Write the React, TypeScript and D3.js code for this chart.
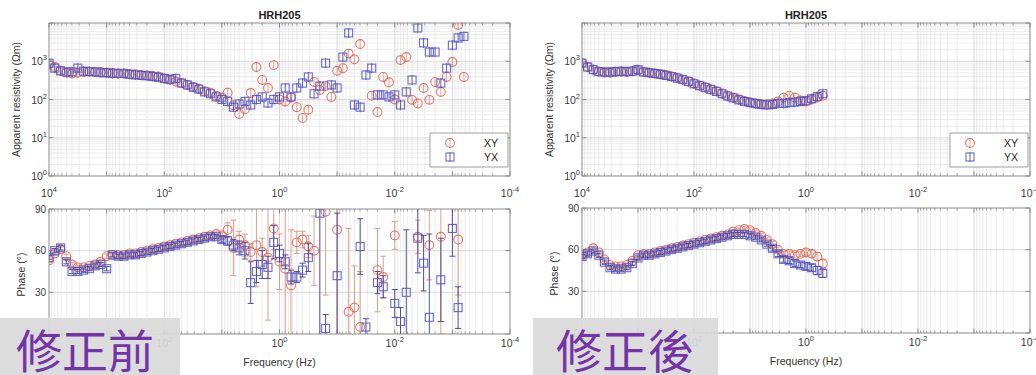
import React from 'react';
import * as d3 from 'd3';

// ---------- data ----------
const FREQ = [10000, 7943, 6310, 5012, 3981, 3162, 2512, 1995, 1585, 1259,
  1000, 794.3, 631.0, 501.2, 398.1, 316.2, 251.2, 199.5, 158.5, 125.9,
  100, 79.43, 63.10, 50.12, 39.81, 31.62, 25.12, 19.95, 15.85, 12.59,
  10, 7.943, 6.310, 5.012, 3.981, 3.162, 2.512, 1.995, 1.585, 1.259,
  1, 0.7943, 0.6310, 0.5012, 0.3981, 0.3162, 0.2512, 0.1995, 0.1585, 0.1259,
  0.1, 0.07943, 0.06310, 0.05012, 0.03981, 0.03162, 0.02512, 0.01995, 0.01585, 0.01259,
  0.01, 0.007943, 0.006310, 0.005012, 0.003981, 0.003162, 0.002512, 0.001995, 0.001585, 0.001259,
  0.001, 0.0007943, 0.0006310];

type V = number | null;

// before correction (修正前)
const XY_RHO_BEFORE: V[] = [832, 708, 562, 501, 479, 501, 525, 537, 525, 525,
  501, 501, 479, 479, 457, 457, 437, 427, 417, 398,
  355, 331, 295, 269, 240, 214, 191, 166, 151, 126,
  112, 151, 71, 42, 56, 148, 708, 324, 200, 794,
  100, 89, 112, 63, 33, 54, 288, 178, 224, 117,
  562, 661, 1585, 1122, 2818, null, 126, 47, 389, 282,
  100, 1072, 1288, 98, 79, 200, 98, 288, 158, 389,
  955, 8913, 389];
const YX_RHO_BEFORE: V[] = [891, 661, 562, 525, 525, 661, 550, 537, 525, 501,
  501, 479, 479, 479, 457, 437, 427, 417, 398, 380,
  355, 331, 355, 269, 240, 209, 186, 158, 141, 117,
  100, 89, 63, 76, 89, 72, 100, 117, 81, 100,
  117, 200, 117, 200, 269, 389, 141, 224, 891, 240,
  200, 1288, 5495, 72, 63, 437, 661, 132, 132, 117,
  132, 72, 158, 324, 7413, 3020, 1738, 1738, 269, 661,
  2630, 4074, 4467];
const XY_PHASE_BEFORE: V[] = [53, 58, 61, 56, 50, 48, 48, 49, 50, 52,
  56, 57, 57, 57, 58, 58, 59, 60, 61, 62,
  63, 64, 65, 66, 67, 68, 69, 70, 71, 72,
  71, 75, 62, 68, 64, 59, 64, 59, 55, 76,
  52, 47, 35, 66, 68, 63, 60, null, 88, null,
  75, null, 16, 19, 5, null, null, 46, 41, null,
  71, null, null, null, 70, null, 64, null, 70, null,
  null, 68, null];
const XY_PHASE_ERR_BEFORE: V[] = [1.5, 1.5, 1.5, 1.5, 1.5, 1.5, 1.5, 1.5, 1.5, 1.5,
  1.5, 1.5, 1.5, 1.5, 1.5, 1.5, 1.5, 1.5, 1.5, 1.5,
  1.5, 1.5, 1.5, 1.5, 1.5, 1.5, 1.5, 1.5, 1.5, 1.5,
  2, 5, 20, 6, 8, 6, 30, 10, 45, 15,
  20, 50, 40, 8, 6, 8, 25, null, 60, null,
  80, null, 60, 30, 40, null, null, 30, 15, null,
  10, null, null, null, 12, null, 25, null, 70, null,
  null, 40, null];
const YX_PHASE_BEFORE: V[] = [55, 60, 62, 52, 45, 45, 46, 47, 49, 50,
  47, 57, 56, 56, 57, 57, 58, 59, 60, 61,
  62, 63, 64, 65, 66, 67, 68, 69, 70, 70,
  68, 67, 64, 62, 60, 37, 45, 50, 48, 66,
  58, 52, 41, 41, 46, 55, null, 87, 4, null,
  42, null, null, null, 63, 5, null, 37, 34, null,
  22, 9, 30, null, 69, 51, 12, null, 39, null,
  76, 19, null];
const YX_PHASE_ERR_BEFORE: V[] = [1.5, 1.5, 1.5, 1.5, 1.5, 1.5, 1.5, 1.5, 1.5, 1.5,
  1.5, 1.5, 1.5, 1.5, 1.5, 1.5, 1.5, 1.5, 1.5, 1.5,
  1.5, 1.5, 1.5, 1.5, 1.5, 1.5, 1.5, 1.5, 1.5, 1.5,
  2, 3, 4, 5, 6, 15, 8, 10, 8, 12,
  6, 5, 5, 4, 5, 10, null, 90, 10, null,
  45, null, null, null, 20, 6, null, 8, 8, null,
  10, 10, 45, null, 25, 20, 60, null, 30, null,
  20, 15, null];

// after correction (修正後) – first 44 frequencies
const XY_RHO_AFTER: V[] = [891, 708, 603, 537, 501, 501, 525, 525, 525, 550,
  575, 525, 501, 479, 457, 437, 398, 372, 331, 295,
  263, 234, 209, 186, 166, 145, 126, 112, 100, 91,
  85, 79, 76, 74, 79, 89, 112, 126, 112, 95,
  89, 100, 112, 126];
const YX_RHO_AFTER: V[] = [891, 708, 603, 537, 525, 525, 537, 550, 537, 550,
  603, 525, 501, 479, 457, 427, 398, 363, 331, 295,
  257, 229, 204, 182, 162, 141, 123, 110, 98, 89,
  83, 78, 74, 72, 74, 79, 79, 83, 85, 89,
  93, 105, 120, 141];
const XY_PHASE_AFTER: V[] = [56, 58, 61, 58, 53, 49, 48, 48, 49, 52,
  56, 57, 57, 58, 59, 60, 61, 62, 63, 64,
  65, 66, 67, 68, 69, 70, 71, 73, 74, 75,
  74, 72, 70, 67, 64, 60, 57, 57, 56, 57,
  58, 57, 55, 50];
const YX_PHASE_AFTER: V[] = [55, 57, 59, 56, 51, 47, 46, 46, 47, 50,
  54, 56, 56, 57, 58, 59, 60, 61, 62, 63,
  64, 65, 66, 67, 68, 69, 70, 71, 71, 71,
  70, 69, 67, 64, 61, 57, 53, 52, 50, 49,
  48, 47, 45, 43];
const PHASE_ERR_AFTER: V[] = [1.5, 1.5, 1.5, 1.5, 1.5, 1.5, 1.5, 1.5, 1.5, 1.5,
  1.5, 1.5, 1.5, 1.5, 1.5, 1.5, 1.5, 1.5, 1.5, 1.5,
  1.5, 1.5, 1.5, 1.5, 1.5, 1.5, 1.5, 1.5, 1.5, 1.5,
  1.5, 1.5, 1.5, 1.5, 2, 2, 2, 2, 2, 2,
  2.5, 2.5, 3, 3];

const X_TICKS = [1e4, 1e2, 1, 1e-2, 1e-4];
const RHO_TICKS = [1, 10, 100, 1000];
const PHASE_TICKS = [0, 30, 60, 90];
const TITLE = 'HRH205';
const LEGEND = ['XY', 'YX'];
const STAMPS = ['修正前', '修正後'];

// ---------- style ----------
const XY_COLOR = '#e0604e';
const YX_COLOR = '#5050c8';
const XY_ERR = '#d8957f';
const YX_ERR = '#3e3e92';
const FONT = 'Liberation Sans, Arial, sans-serif';

function Pow({ x, y, v, anchor = 'middle' }: { x: number; y: number; v: number; anchor?: string }) {
  const e = Math.round(Math.log10(v));
  return (
    <text x={x} y={y} textAnchor={anchor} fontSize={10.5} fill="#3a3a3a" fontFamily={FONT}>
      10<tspan dy={-5} fontSize={7.5}>{e}</tspan>
    </text>
  );
}

type PanelProps = {
  id: string;
  x0: number; x1: number;
  rT: number; rB: number; pT: number; pB: number;
  freq: number[];
  xyRho: V[]; yxRho: V[]; xyPh: V[]; yxPh: V[]; xyErr: V[]; yxErr: V[];
};

function Panel(p: PanelProps) {
  const x = d3.scaleLog().domain([1e4, 1e-4]).range([p.x0, p.x1]);
  const yR = d3.scaleLog().domain([1, 1e4]).range([p.rB, p.rT]);
  const yP = d3.scaleLinear().domain([0, 90]).range([p.pB, p.pT]);
  const xMinor: number[] = [];
  for (let d = -4; d < 4; d++) for (let k = 2; k <= 9; k++) xMinor.push(k * Math.pow(10, d));
  const xMajor = d3.range(-4, 5).map((d) => Math.pow(10, d));
  const rMinor: number[] = [];
  for (let d = 0; d < 4; d++) for (let k = 2; k <= 9; k++) rMinor.push(k * Math.pow(10, d));
  const rMajor = [1, 10, 100, 1000, 10000];
  const cx = (p.x0 + p.x1) / 2;

  const pts = (vals: V[], errs: V[] | null) =>
    p.freq.map((f, i) => ({ f, v: vals[i], e: errs ? errs[i] : null })).filter((d) => d.v != null) as { f: number; v: number; e: number | null }[];

  const axisFrame = (top: number, bot: number, yTicksMajor: number[], yTicksMinor: number[], ys: (v: number) => number) => (
    <g>
      <rect x={p.x0} y={top} width={p.x1 - p.x0} height={bot - top} fill="#fff" />
      {xMinor.map((f, i) => (
        <line key={'xm' + i} x1={x(f)} x2={x(f)} y1={top} y2={bot} stroke="#e4e4e4" strokeWidth={0.7} />
      ))}
      {yTicksMinor.map((v, i) => (
        <line key={'ym' + i} x1={p.x0} x2={p.x1} y1={ys(v)} y2={ys(v)} stroke="#e4e4e4" strokeWidth={0.7} />
      ))}
      {xMajor.map((f, i) => (
        <line key={'xM' + i} x1={x(f)} x2={x(f)} y1={top} y2={bot} stroke="#cfcfcf" strokeWidth={0.8} />
      ))}
      {yTicksMajor.map((v, i) => (
        <line key={'yM' + i} x1={p.x0} x2={p.x1} y1={ys(v)} y2={ys(v)} stroke="#cfcfcf" strokeWidth={0.8} />
      ))}
      {xMinor.map((f, i) => (
        <g key={'xt' + i} stroke="#777" strokeWidth={0.6}>
          <line x1={x(f)} x2={x(f)} y1={bot} y2={bot - 2.5} />
          <line x1={x(f)} x2={x(f)} y1={top} y2={top + 2.5} />
        </g>
      ))}
      {xMajor.map((f, i) => (
        <g key={'xT' + i} stroke="#666" strokeWidth={0.7}>
          <line x1={x(f)} x2={x(f)} y1={bot} y2={bot - 4.5} />
          <line x1={x(f)} x2={x(f)} y1={top} y2={top + 4.5} />
        </g>
      ))}
      {yTicksMajor.map((v, i) => (
        <g key={'yT' + i} stroke="#666" strokeWidth={0.7}>
          <line x1={p.x0} x2={p.x0 + 4.5} y1={ys(v)} y2={ys(v)} />
          <line x1={p.x1} x2={p.x1 - 4.5} y1={ys(v)} y2={ys(v)} />
        </g>
      ))}
    </g>
  );

  const circle = (cxp: number, cyp: number, k: string) => (
    <circle key={k} cx={cxp} cy={cyp} r={4.4} fill="none" stroke={XY_COLOR} strokeWidth={1.1} strokeOpacity={0.85} />
  );
  const square = (cxp: number, cyp: number, k: string) => (
    <rect key={k} x={cxp - 4} y={cyp - 4} width={8} height={8} fill="none" stroke={YX_COLOR} strokeWidth={1.1} strokeOpacity={0.85} />
  );

  const rhoSeries = (vals: V[], kind: 'xy' | 'yx') =>
    pts(vals, null).map((d, i) => {
      const px = x(d.f), py = yR(d.v);
      return (
        <g key={kind + 'r' + i}>
          <line x1={px} x2={px} y1={py - 5} y2={py + 5} stroke={kind === 'xy' ? XY_ERR : YX_ERR} strokeWidth={0.8} />
          {kind === 'xy' ? circle(px, py, 'c') : square(px, py, 's')}
        </g>
      );
    });

  const phSeries = (vals: V[], errs: V[], kind: 'xy' | 'yx') =>
    pts(vals, errs).map((d, i) => {
      const px = x(d.f), py = yP(d.v);
      const e = d.e ?? 0;
      const a = yP(d.v - e), b = yP(d.v + e);
      const col = kind === 'xy' ? XY_ERR : YX_ERR;
      return (
        <g key={kind + 'p' + i}>
          <line x1={px} x2={px} y1={a} y2={b} stroke={col} strokeWidth={0.9} />
          <line x1={px - 3} x2={px + 3} y1={a} y2={a} stroke={col} strokeWidth={0.9} />
          <line x1={px - 3} x2={px + 3} y1={b} y2={b} stroke={col} strokeWidth={0.9} />
          {kind === 'xy' ? circle(px, py, 'c') : square(px, py, 's')}
        </g>
      );
    });

  const lgX0 = p.x1 - 80, lgY0 = 133;
  return (
    <g>
      <defs>
        <clipPath id={p.id + 'cr'}><rect x={p.x0} y={p.rT} width={p.x1 - p.x0} height={p.rB - p.rT} /></clipPath>
        <clipPath id={p.id + 'cp'}><rect x={p.x0} y={p.pT} width={p.x1 - p.x0} height={p.pB - p.pT} /></clipPath>
      </defs>
      {axisFrame(p.rT, p.rB, rMajor, rMinor, yR)}
      <g clipPath={`url(#${p.id}cr)`}>
        {rhoSeries(p.xyRho, 'xy')}
        {rhoSeries(p.yxRho, 'yx')}
      </g>
      <rect x={p.x0} y={p.rT} width={p.x1 - p.x0} height={p.rB - p.rT} fill="none" stroke="#8a8a8a" strokeWidth={0.8} />
      {RHO_TICKS.map((v) => (
        <Pow key={'rl' + v} x={p.x0 - 2} y={yR(v) + 4} v={v} anchor="end" />
      ))}
      {X_TICKS.map((f) => (
        <Pow key={'xl1' + f} x={x(f)} y={p.rB + 21} v={f} />
      ))}
      <text x={cx} y={p.rT - 4} textAnchor="middle" fontSize={11} fontWeight="bold" fill="#222" fontFamily={FONT}>{TITLE}</text>
      <text transform={`translate(${p.x0 - 29},${(p.rT + p.rB) / 2}) rotate(-90)`} textAnchor="middle" fontSize={10.5} fill="#333" fontFamily={FONT}>
        Apparent resistivity (Ωm)
      </text>
      <rect x={lgX0} y={lgY0} width={78} height={34} fill="#fff" stroke="#8a8a8a" strokeWidth={0.8} />
      {LEGEND.map((l, i) => {
        const ly = lgY0 + 10 + i * 14;
        const mx = lgX0 + 20;
        return (
          <g key={'lg' + l}>
            <line x1={mx} x2={mx} y1={ly - 5} y2={ly + 5} stroke={i === 0 ? XY_ERR : YX_ERR} strokeWidth={0.8} />
            {i === 0 ? circle(mx, ly, 'lc') : square(mx, ly, 'ls')}
            <text x={lgX0 + 68} y={ly + 4} textAnchor="end" fontSize={10.5} fill="#222" fontFamily={FONT}>{l}</text>
          </g>
        );
      })}
      {axisFrame(p.pT, p.pB, PHASE_TICKS, [], yP)}
      <g clipPath={`url(#${p.id}cp)`}>
        {phSeries(p.xyPh, p.xyErr, 'xy')}
        {phSeries(p.yxPh, p.yxErr, 'yx')}
      </g>
      <rect x={p.x0} y={p.pT} width={p.x1 - p.x0} height={p.pB - p.pT} fill="none" stroke="#8a8a8a" strokeWidth={0.8} />
      {PHASE_TICKS.map((v) => (
        <text key={'pl' + v} x={p.x0 - 3} y={yP(v) + 3.5} textAnchor="end" fontSize={10} fill="#3a3a3a" fontFamily={FONT}>{v}</text>
      ))}
      {X_TICKS.map((f) => (
        <Pow key={'xl2' + f} x={x(f)} y={p.pB + 13} v={f} />
      ))}
      <text transform={`translate(${p.x0 - 24},${(p.pT + p.pB) / 2 + 3}) rotate(-90)`} textAnchor="middle" fontSize={10.5} fill="#333" fontFamily={FONT}>
        Phase (°)
      </text>
      <text x={cx} y={p.pB + 32} textAnchor="middle" fontSize={10.5} fill="#333" fontFamily={FONT}>Frequency (Hz)</text>
    </g>
  );
}

export default function App() {
  const fAfter = FREQ.slice(0, XY_RHO_AFTER.length);
  return (
    <svg width={1036} height={375} style={{ position: 'absolute', left: 0, top: 0, background: '#fff' }}>
      <rect x={0} y={0} width={1036} height={375} fill="#fff" />
      <Panel id="L" x0={49} x1={510} rT={23} rB={176} pT={209} pB={334} freq={FREQ}
        xyRho={XY_RHO_BEFORE} yxRho={YX_RHO_BEFORE} xyPh={XY_PHASE_BEFORE} yxPh={YX_PHASE_BEFORE}
        xyErr={XY_PHASE_ERR_BEFORE} yxErr={YX_PHASE_ERR_BEFORE} />
      <Panel id="R" x0={582} x1={1030} rT={23} rB={176} pT={208} pB={333} freq={fAfter}
        xyRho={XY_RHO_AFTER} yxRho={YX_RHO_AFTER} xyPh={XY_PHASE_AFTER} yxPh={YX_PHASE_AFTER}
        xyErr={PHASE_ERR_AFTER} yxErr={PHASE_ERR_AFTER} />
      <rect x={0} y={318} width={180} height={57} fill="#d9d9d9" fillOpacity={0.93} />
      <text x={16} y={368} fontSize={46} fill="#7434a8" fontFamily="Noto Sans CJK TC, sans-serif">{STAMPS[0]}</text>
      <rect x={533} y={318} width={185} height={57} fill="#d9d9d9" fillOpacity={0.93} />
      <text x={556} y={368} fontSize={46} fill="#7434a8" fontFamily="Noto Sans CJK TC, sans-serif">{STAMPS[1]}</text>
    </svg>
  );
}
